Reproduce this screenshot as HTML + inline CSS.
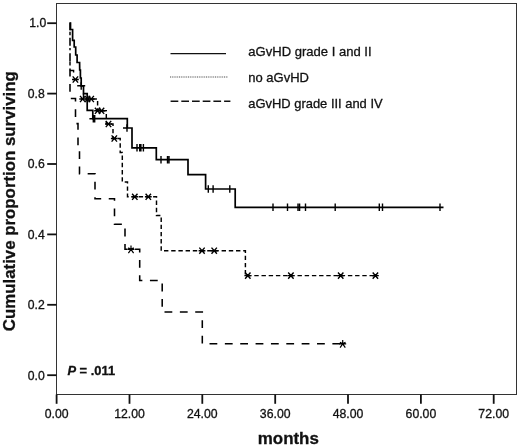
<!DOCTYPE html>
<html><head><meta charset="utf-8"><title>Survival by aGvHD grade</title>
<style>html,body{margin:0;padding:0;background:#fff}body{width:520px;height:447px;overflow:hidden}svg{display:block;filter:grayscale(1)}text{font-family:"Liberation Sans",sans-serif;fill:#111;stroke:#111;stroke-width:0.3px}</style></head><body>
<svg width="520" height="447" viewBox="0 0 520 447">
<rect x="0" y="0" width="520" height="447" fill="#fff"/>
<rect x="56.5" y="3.5" width="460.0" height="391.0" fill="none" stroke="#333" stroke-width="1"/>
<line x1="47.2" x2="56.5" y1="375.2" y2="375.2" stroke="#111" stroke-width="1.8"/>
<text x="44.7" y="379.8" font-size="12.2" text-anchor="end">0.0</text>
<line x1="47.2" x2="56.5" y1="304.8" y2="304.8" stroke="#111" stroke-width="1.8"/>
<text x="44.7" y="309.2" font-size="12.2" text-anchor="end">0.2</text>
<line x1="47.2" x2="56.5" y1="234.4" y2="234.4" stroke="#111" stroke-width="1.8"/>
<text x="44.7" y="238.6" font-size="12.2" text-anchor="end">0.4</text>
<line x1="47.2" x2="56.5" y1="164.0" y2="164.0" stroke="#111" stroke-width="1.8"/>
<text x="44.7" y="168.1" font-size="12.2" text-anchor="end">0.6</text>
<line x1="47.2" x2="56.5" y1="93.6" y2="93.6" stroke="#111" stroke-width="1.8"/>
<text x="44.7" y="97.5" font-size="12.2" text-anchor="end">0.8</text>
<line x1="47.2" x2="56.5" y1="23.2" y2="23.2" stroke="#111" stroke-width="1.8"/>
<text x="46.2" y="26.9" font-size="12.2" text-anchor="end">1.0</text>
<line x1="56.6" x2="56.6" y1="394.5" y2="403.8" stroke="#111" stroke-width="1.8"/>
<text x="56.6" y="418.2" font-size="12.25" text-anchor="middle">0.00</text>
<line x1="129.5" x2="129.5" y1="394.5" y2="403.8" stroke="#111" stroke-width="1.8"/>
<text x="129.5" y="418.2" font-size="12.25" text-anchor="middle">12.00</text>
<line x1="202.3" x2="202.3" y1="394.5" y2="403.8" stroke="#111" stroke-width="1.8"/>
<text x="202.3" y="418.2" font-size="12.25" text-anchor="middle">24.00</text>
<line x1="275.2" x2="275.2" y1="394.5" y2="403.8" stroke="#111" stroke-width="1.8"/>
<text x="275.2" y="418.2" font-size="12.25" text-anchor="middle">36.00</text>
<line x1="348.0" x2="348.0" y1="394.5" y2="403.8" stroke="#111" stroke-width="1.8"/>
<text x="348.0" y="418.2" font-size="12.25" text-anchor="middle">48.00</text>
<line x1="420.9" x2="420.9" y1="394.5" y2="403.8" stroke="#111" stroke-width="1.8"/>
<text x="420.9" y="418.2" font-size="12.25" text-anchor="middle">60.00</text>
<line x1="493.7" x2="493.7" y1="394.5" y2="403.8" stroke="#111" stroke-width="1.8"/>
<text x="493.7" y="418.2" font-size="12.25" text-anchor="middle">72.00</text>
<text transform="translate(288.3 444.1) scale(0.9735 1)" font-size="17.4" font-weight="bold" text-anchor="middle" stroke-width="0.2">months</text>
<text transform="translate(15.1 201.2) rotate(-90) scale(0.968 1)" font-size="17.4" font-weight="bold" text-anchor="middle" stroke-width="0.2">Cumulative proportion surviving</text>
<text x="67.4" y="375.1" font-size="12.9" font-weight="bold" stroke="#111" stroke-width="0.3"><tspan font-style="italic">P</tspan> = .011</text>
<line x1="170.5" x2="226" y1="53.6" y2="53.6" stroke="#111" stroke-width="1.3"/>
<line x1="170" x2="228" y1="77" y2="77" stroke="#888" stroke-width="1.3" stroke-dasharray="1 0.8"/>
<line x1="170.6" x2="230.4" y1="101.3" y2="101.3" stroke="#111" stroke-width="1.4" stroke-dasharray="7.7 3"/>
<text x="248.3" y="56" font-size="13.05">aGvHD grade I and II</text>
<text x="248.3" y="82" font-size="13">no aGvHD</text>
<text x="248.3" y="108" font-size="12.93">aGvHD grade III and IV</text>
<path d="M70.0 22.5 L70.0 98.5 L75.5 98.5 L75.5 123.6 L78.0 123.6 L78.0 148.7 L79.5 148.7 L79.5 173.8 L95.0 173.8 L95.0 198.8 L114.5 198.8 L114.5 224.2 L125.0 224.2 L125.0 249.3 L139.7 249.3 L139.7 280.5 L162.2 280.5 L162.2 312.0 L202.3 312.0 L202.3 343.8 L340.0 343.8" fill="none" stroke="#000" stroke-width="1.55" stroke-dasharray="7.8 7.56"/>
<path d="M70.0 22.5 L70.0 66.0" fill="none" stroke="#000" stroke-width="1.45" stroke-dasharray="0 9.3 3.5 12.6 2.4 11 4.2 100"/>
<path d="M83.5 93.6 L83.5 99.0 L97.6 99.0 L97.6 110.8 L106.3 110.8 L106.3 124.0 L113.0 124.0 L113.0 138.5 L120.2 138.5 L120.2 152.4 L122.3 152.4 L122.3 182.0 L127.5 182.0 L127.5 196.8 L156.5 196.8 L156.5 215.5 L161.2 215.5 L161.2 250.7 L245.4 250.7 L245.4 275.6 L375.4 275.6" fill="none" stroke="#000" stroke-width="1.45" stroke-dasharray="4.4 2.8" stroke-dashoffset="0"/>
<path d="M70.5 22.3 L70.5 29.5 L72.6 29.5 L72.6 40.3 L74.2 40.3 L74.2 47.0 L75.7 47.0 L75.7 55.0 L77.1 55.0 L77.1 62.5 L79.6 62.5 L79.7 70.0 L80.4 70.0 L80.4 78.0 L81.2 78.0 L81.2 86.0 L83.5 86.0 L83.5 93.6 L87.2 93.6 L87.2 110.3 L92.8 110.3 L92.8 118.7 L127.3 118.7 L127.3 128.0 L132.0 128.0 L132.0 147.8 L156.3 147.8 L156.3 159.7 L188.0 159.7 L188.0 174.6 L205.6 174.6 L205.6 189.0 L235.2 189.0 L235.2 207.3 L443.5 207.3" fill="none" stroke="#000" stroke-width="1.7" stroke-linejoin="miter"/>
<path d="M77.2 85.8 H85.2 M69.8 70.5 H73.6 V72.4 M89.4 118.7 H93 M123 128 H127.3 M81.2 82.2 V89.8 M93.3 114.9 V122.5 M94.7 114.9 V122.5 M127.0 124.2 V131.8 M137.0 144.0 V151.6 M139.7 144.0 V151.6 M140.9 144.0 V151.6 M143.4 144.0 V151.6 M161.0 155.9 V163.5 M167.5 155.9 V163.5 M169.0 155.9 V163.5 M208.3 185.2 V192.8 M213.1 185.2 V192.8 M229.8 185.2 V192.8 M273.0 203.5 V211.1 M287.5 203.5 V211.1 M298.0 203.5 V211.1 M299.6 203.5 V211.1 M305.5 203.5 V211.1 M335.2 203.5 V211.1 M379.3 203.5 V211.1 M382.5 203.5 V211.1 M440.0 203.5 V211.1 " fill="none" stroke="#000" stroke-width="1.4"/>
<path d="M72.7 76.4 l5.4 6.2 m0 -6.2 l-5.4 6.2 M72.0 79.5 h6.8 M80.0 95.9 l5.4 6.2 m0 -6.2 l-5.4 6.2 M79.3 99.0 h6.8 M84.8 95.9 l5.4 6.2 m0 -6.2 l-5.4 6.2 M84.1 99.0 h6.8 M88.5 95.9 l5.4 6.2 m0 -6.2 l-5.4 6.2 M87.8 99.0 h6.8 M94.9 107.7 l5.4 6.2 m0 -6.2 l-5.4 6.2 M94.2 110.8 h6.8 M98.8 107.7 l5.4 6.2 m0 -6.2 l-5.4 6.2 M98.1 110.8 h6.8 M105.8 120.9 l5.4 6.2 m0 -6.2 l-5.4 6.2 M105.1 124.0 h6.8 M111.6 135.4 l5.4 6.2 m0 -6.2 l-5.4 6.2 M110.9 138.5 h6.8 M132.1 193.7 l5.4 6.2 m0 -6.2 l-5.4 6.2 M131.4 196.8 h6.8 M145.6 193.7 l5.4 6.2 m0 -6.2 l-5.4 6.2 M144.9 196.8 h6.8 M199.3 247.6 l5.4 6.2 m0 -6.2 l-5.4 6.2 M198.6 250.7 h6.8 M211.5 247.6 l5.4 6.2 m0 -6.2 l-5.4 6.2 M210.8 250.7 h6.8 M245.1 272.5 l5.4 6.2 m0 -6.2 l-5.4 6.2 M244.4 275.6 h6.8 M288.2 272.5 l5.4 6.2 m0 -6.2 l-5.4 6.2 M287.5 275.6 h6.8 M338.0 272.5 l5.4 6.2 m0 -6.2 l-5.4 6.2 M337.3 275.6 h6.8 M372.7 272.5 l5.4 6.2 m0 -6.2 l-5.4 6.2 M372.0 275.6 h6.8 " fill="none" stroke="#000" stroke-width="1.4"/>
<path d="M131.0 249.3 v-3.8 M127.5 249.3 h7 M131.0 249.3 l-2.6 3.8 M131.0 249.3 l2.6 3.8 M131.0 249.3 l-2.8 -1.4 M131.0 249.3 l2.8 -1.4 M342.7 343.8 v-3.8 M339.2 343.8 h7 M342.7 343.8 l-2.6 3.8 M342.7 343.8 l2.6 3.8 M342.7 343.8 l-2.8 -1.4 M342.7 343.8 l2.8 -1.4 " fill="none" stroke="#000" stroke-width="1.2"/>
</svg></body></html>
